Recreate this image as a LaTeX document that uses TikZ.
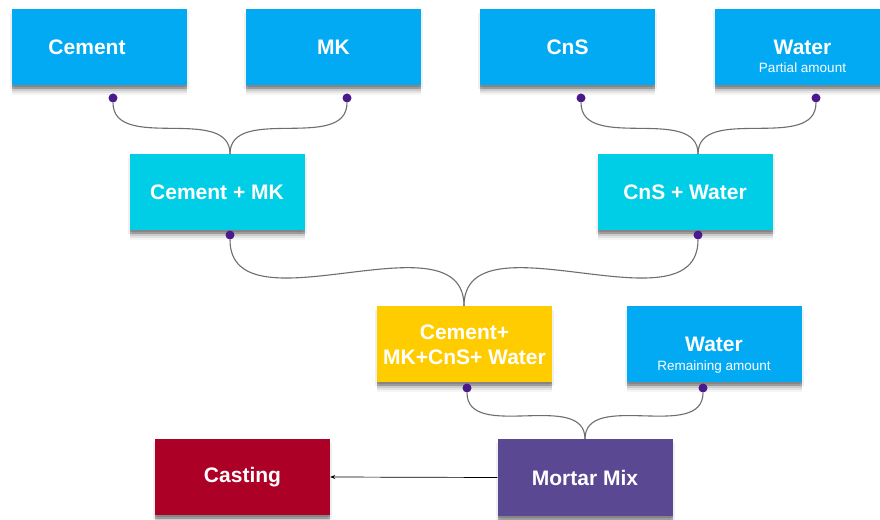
\documentclass[tikz,border=0pt]{standalone}
\usepackage{fontspec}
\setmainfont{Liberation Sans}
\usetikzlibrary{arrows.meta}

\definecolor{boxblue}{HTML}{02AAF3}
\definecolor{boxcyan}{HTML}{00CEE6}
\definecolor{boxyellow}{HTML}{FFCC00}
\definecolor{boxpurple}{HTML}{5B4893}
\definecolor{boxred}{HTML}{AD0026}
\definecolor{dotpurple}{HTML}{4A1A8C}
\definecolor{linkgray}{HTML}{6E6E6E}

\begin{document}
\begin{tikzpicture}[x=1pt, y=1pt,
  box/.style={minimum width=175pt, minimum height=76pt, inner sep=0pt,
    text=white, align=center, font=\fontsize{21}{25}\selectfont\bfseries,
    preaction={fill=black, fill opacity=.06, transform canvas={xshift=-2pt, yshift=-4pt}},
    preaction={fill=black, fill opacity=.06, transform canvas={xshift=2pt, yshift=-4pt}},
    preaction={fill=black, fill opacity=.14, transform canvas={yshift=-2pt}},
    preaction={fill=black, fill opacity=.13, transform canvas={yshift=-4pt}},
    preaction={fill=black, fill opacity=.10, transform canvas={yshift=-6pt}},
    preaction={fill=black, fill opacity=.07, transform canvas={yshift=-8pt}},
    preaction={fill=black, fill opacity=.04, transform canvas={yshift=-10pt}}},
  sub/.style={text=white, font=\fontsize{13.5}{15}\selectfont},
  link/.style={draw=linkgray, line width=1.1pt},
  dot/.style={circle, fill=dotpurple, inner sep=0pt, minimum size=9pt}]

\clip (0,0) rectangle (880,519);
\fill [white] (0,0) rectangle (880,519);

% inputs
\node [box, fill=boxblue] (cement) at (99,472) {\hspace*{-24pt}Cement};
\node [box, fill=boxblue] (mk) at (333.5,472) {MK};
\node [box, fill=boxblue] (cns) at (567.5,472) {CnS};
\node [box, fill=boxblue] (water1) at (802.5,472) {Water};
\node [sub] (water1-sub) at (802.5,451) {Partial amount};

% first mixes
\node [box, fill=boxcyan] (cemmk) at (217,327) {Cement + MK};
\node [box, fill=boxcyan] (cnswater) at (685,327) {CnS + Water};

\node [box, fill=boxyellow] (blend) at (464.5,174.5) {Cement+\\MK+CnS+ Water};
\node [box, fill=boxblue] (water2) at (714,174.5) {Water};
\node [sub] (water2-sub) at (714,152) {Remaining amount};

\node [box, fill=boxpurple] (mortar) at (585,41.5) {Mortar Mix};
\node [box, fill=boxred] (casting) at (242.5,42) {Casting};

% ports
\node [dot] (cement-d) at (113,421) {};
\node [dot] (mk-d) at (347,421) {};
\node [dot] (cns-d) at (581,421) {};
\node [dot] (water1-d) at (816,421) {};
\node [dot] (cemmk-d) at (230,284) {};
\node [dot] (cnswater-d) at (698,284) {};
\node [dot] (blend-d) at (467,131) {};
\node [dot] (water2-d) at (703,131) {};

\coordinate (j1) at (230,365);
\coordinate (j2) at (698,365);
\coordinate (j3) at (464,213);
\coordinate (j4) at (585,80);

\draw [link] (cement-d.south) to [out=-90, in=90] (j1);
\draw [link] (mk-d.south) to [out=-90, in=90] (j1);
\draw [link] (cns-d.south) to [out=-90, in=90] (j2);
\draw [link] (water1-d.south) to [out=-90, in=90] (j2);
\draw [link] (cemmk-d.south) to [out=-90, in=90] (j3);
\draw [link] (cnswater-d.south) to [out=-90, in=90] (j3);
\draw [link] (blend-d.south) to [out=-90, in=90] (j4);
\draw [link] (water2-d.south) to [out=-90, in=90] (j4);

\draw [line width=.7pt, -{Stealth[length=5pt, width=4pt]}] (mortar.west) -- (casting.east);

\end{tikzpicture}
\end{document}
